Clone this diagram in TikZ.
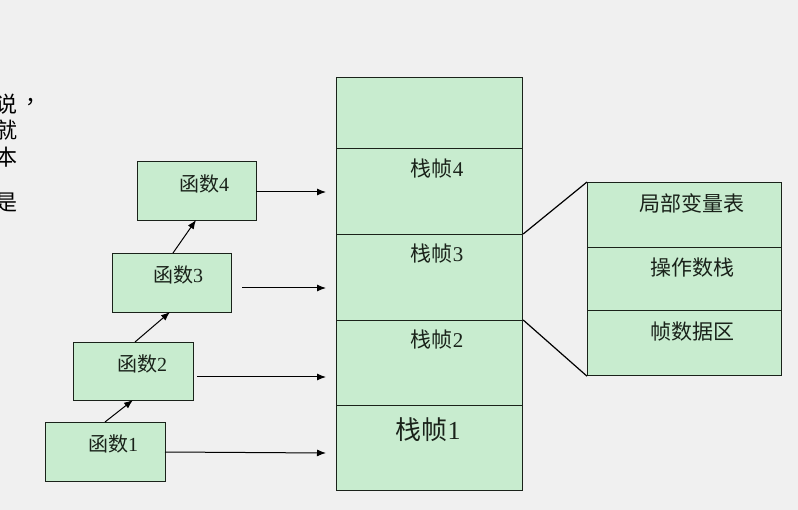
\documentclass[tikz,border=0pt]{standalone}
\usepackage{fontspec}
\setmainfont{Liberation Serif}
\newfontfamily\cjk{Noto Sans CJK SC}
\usetikzlibrary{arrows.meta}
\definecolor{bg}{HTML}{F0F0F0}
\definecolor{cellgreen}{HTML}{C8ECCF}
\definecolor{ink}{HTML}{1A221A}
\tikzset{
  cell/.style={draw=ink, line width=1.2pt, fill=cellgreen, inner sep=0pt, anchor=north west},
  lbl/.style={text=ink, inner sep=0pt, font=\fontsize{20}{22}\selectfont},
  dlbl/.style={text=ink, inner sep=0pt, font=\cjk\fontsize{21}{23}\selectfont},
  arr/.style={draw=black, line width=1pt, -{Latex[length=9pt,width=7pt]}},
  link/.style={draw=black, line width=1.2pt},
  side/.style={text=black, inner sep=0pt, font=\cjk\fontsize{22}{24}\selectfont}
}
\begin{document}
\begin{tikzpicture}[x=1pt,y=-1pt]
\clip (0,0) rectangle (798,510);
\fill[bg] (0,0) rectangle (798,510);

% cropped side text (cut off by the left edge, as in the source)
\node[side] (s1) at (6,104) {说};
\node[side] (sc) at (36,102) {，};
\node[side] (s2) at (6,130) {就};
\node[side] (s3) at (6,157) {本};
\node[side] (s4) at (6,203) {是};

% stack column
\node[cell, minimum width=186pt, minimum height=71pt] (top) at (336,77) {};
\node[cell, minimum width=186pt, minimum height=86pt] (f4) at (336,148) {};
\node[cell, minimum width=186pt, minimum height=86pt] (f3) at (336,234) {};
\node[cell, minimum width=186pt, minimum height=85pt] (f2) at (336,320) {};
\node[cell, minimum width=186pt, minimum height=85pt] (f1) at (336,405) {};
\node[lbl, font=\fontsize{21}{23}\selectfont] (l4) at (437,169) {{\cjk 栈帧}4};
\node[lbl, font=\fontsize{21}{23}\selectfont] (l3) at (437,254) {{\cjk 栈帧}3};
\node[lbl, font=\fontsize{21}{23}\selectfont] (l2) at (437,340) {{\cjk 栈帧}2};
\node[lbl, font=\fontsize{26}{28}\selectfont] (l1) at (428,430) {{\cjk 栈帧}1};

% frame detail
\node[cell, minimum width=194pt, minimum height=65pt] (d1) at (587,182) {};
\node[cell, minimum width=194pt, minimum height=63pt] (d2) at (587,247) {};
\node[cell, minimum width=194pt, minimum height=65pt] (d3) at (587,310) {};
\node[dlbl] (t1) at (692,203) {局部变量表};
\node[dlbl] (t2) at (692,268) {操作数栈};
\node[dlbl] (t3) at (692,332) {帧数据区};
\draw[link] (f3.north east) -- (d1.north west);
\draw[link] (f2.north east) -- (d3.south west);

% function boxes
\node[cell, minimum width=119pt, minimum height=59pt] (g4) at (137,161) {};
\node[cell, minimum width=119pt, minimum height=59pt] (g3) at (112,253) {};
\node[cell, minimum width=120pt, minimum height=58pt] (g2) at (73,342) {};
\node[cell, minimum width=120pt, minimum height=59pt] (g1) at (45,422) {};
\node[lbl] (n4) at (204,184) {{\cjk 函数}4};
\node[lbl] (n3) at (178,275) {{\cjk 函数}3};
\node[lbl] (n2) at (142,364) {{\cjk 函数}2};
\node[lbl] (n1) at (113,444) {{\cjk 函数}1};

% call arrows
\coordinate (a1s) at (105,422); \coordinate (a1e) at (133,400);
\coordinate (a2s) at (135,342); \coordinate (a2e) at (170,312);
\coordinate (a3s) at (173,253); \coordinate (a3e) at (196,220);
\draw[arr] (a1s) -- (a1e);
\draw[arr] (a2s) -- (a2e);
\draw[arr] (a3s) -- (a3e);

% arrows to stack
\coordinate (p4s) at (256,192); \coordinate (p4e) at (326,192);
\coordinate (p3s) at (242,288); \coordinate (p3e) at (326,288);
\coordinate (p2s) at (197,377); \coordinate (p2e) at (326,377);
\coordinate (p1s) at (165,452); \coordinate (p1e) at (326,453);
\draw[arr] (p4s) -- (p4e);
\draw[arr] (p3s) -- (p3e);
\draw[arr] (p2s) -- (p2e);
\draw[arr] (p1s) -- (p1e);
\end{tikzpicture}
\end{document}
